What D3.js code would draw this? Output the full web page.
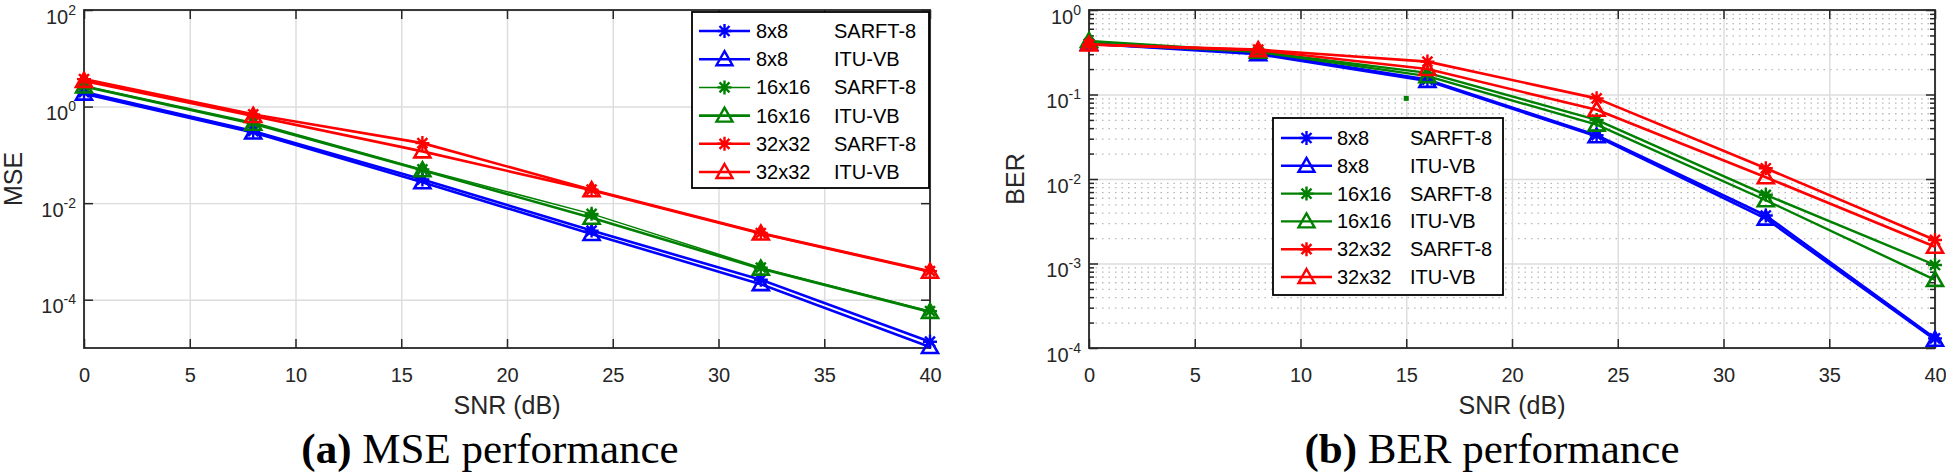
<!DOCTYPE html>
<html><head><meta charset="utf-8">
<script src="https://cdn.jsdelivr.net/npm/d3@7/dist/d3.min.js"></script>
<style>
body{margin:0;background:#fff;}
svg{display:block;}
</style></head><body>
<svg id="c" width="1946" height="476"></svg>
<script>
// ---------------- data ----------------
const snr = [0, 8, 16, 24, 32, 40];
const sizeLabels = ["8x8", "8x8", "16x16", "16x16", "32x32", "32x32"];
const methodLabels = ["SARFT-8", "ITU-VB", "SARFT-8", "ITU-VB", "SARFT-8", "ITU-VB"];
const xTicks = [0, 5, 10, 15, 20, 25, 30, 35, 40];
const mseTickExps = [2, 0, -2, -4];
const berTickExps = [0, -1, -2, -3, -4];

const mse8Sarft  = [2.0, 0.31, 0.031, 0.0027, 2.6e-4, 1.35e-5];
const mse8Itu    = [1.85, 0.29, 0.027, 0.0023, 2.1e-4, 1.05e-5];
const mse16Sarft = [2.7, 0.47, 0.050, 0.0060, 4.6e-4, 5.8e-5];
const mse16Itu   = [2.6, 0.44, 0.048, 0.0050, 4.4e-4, 5.6e-5];
const mse32Sarft = [3.7, 0.69, 0.175, 0.019, 2.4e-3, 3.9e-4];
const mse32Itu   = [3.4, 0.64, 0.118, 0.0185, 2.35e-3, 3.8e-4];

const ber8Sarft  = [0.40, 0.31, 0.150, 0.033, 0.0037, 1.30e-4];
const ber8Itu    = [0.40, 0.30, 0.145, 0.032, 0.0034, 1.25e-4];
const ber16Sarft = [0.40, 0.32, 0.180, 0.050, 0.0065, 9.6e-4];
const ber16Itu   = [0.43, 0.32, 0.165, 0.044, 0.0056, 6.4e-4];
const ber32Sarft = [0.39, 0.34, 0.245, 0.090, 0.0134, 1.9e-3];
const ber32Itu   = [0.39, 0.335, 0.200, 0.066, 0.0105, 1.58e-3];

const berStrayX = [15];
const berStrayY = [0.09];

// ---------------- styles ----------------
const colors = ["#0000ff", "#0000ff", "#008000", "#008000", "#ff0000", "#ff0000"];
const markers = ["star", "tri", "star", "tri", "star", "tri"];
const mseWidths = [2.6, 2.6, 1.5, 2.6, 2.6, 2.6];
const berWidths = [2.6, 2.6, 2.4, 2.4, 2.6, 2.6];

const FONT = "'Liberation Sans', Arial, Helvetica, sans-serif";
const svg = d3.select("#c");

function markerPath(type) {
  if (type === "star") return "M-7,0H7M0,-7V7M-5,-5L5,5M-5,5L5,-5";
  return "M0,-8L8,6L-8,6Z";
}

function drawPanel(o) {
  const g = svg.append("g");
  const x = d3.scaleLinear().domain([0, 40]).range([o.x0, o.x1]);
  const y = d3.scaleLog().domain(o.yDomain).range([o.y1, o.y0]);
  const W = o.x1 - o.x0, H = o.y1 - o.y0;
  const majorVals = o.tickExps.map(e => Math.pow(10, e));
  const axColor = "#262626";

  // minor grid
  let minorVals = [];
  if (o.minor) {
    for (let e = o.minorFrom; e < o.minorTo; e++)
      for (let k = 2; k <= 9; k++) minorVals.push(k * Math.pow(10, e));
    const mg = g.append("g").attr("transform", `translate(${o.x0},0)`)
      .call(d3.axisLeft(y).tickValues(minorVals).tickSize(-W).tickFormat(""));
    mg.select(".domain").remove();
    mg.selectAll("line").attr("stroke", "#b8b8b8").attr("stroke-width", 1.3)
      .attr("stroke-dasharray", "1.5,5");
  }
  // major grid
  const gx = g.append("g").attr("transform", `translate(0,${o.y1})`)
    .call(d3.axisBottom(x).tickValues(xTicks).tickSize(-H).tickFormat(""));
  gx.select(".domain").remove();
  gx.selectAll("line").attr("stroke", "#dcdcdc").attr("stroke-width", 1.4);
  const gy = g.append("g").attr("transform", `translate(${o.x0},0)`)
    .call(d3.axisLeft(y).tickValues(majorVals).tickSize(-W).tickFormat(""));
  gy.select(".domain").remove();
  gy.selectAll("line").attr("stroke", "#dcdcdc").attr("stroke-width", 1.4);

  // ticks & labels
  const bx = g.append("g").attr("transform", `translate(0,${o.y1})`)
    .call(d3.axisBottom(x).tickValues(xTicks).tickSizeInner(-9).tickSizeOuter(0).tickPadding(20));
  bx.selectAll("text").attr("font-family", FONT).attr("font-size", 20).attr("fill", axColor);
  const tx = g.append("g").attr("transform", `translate(0,${o.y0})`)
    .call(d3.axisTop(x).tickValues(xTicks).tickSizeInner(-9).tickSizeOuter(0).tickFormat(""));
  const ly = g.append("g").attr("transform", `translate(${o.x0},0)`)
    .call(d3.axisLeft(y).tickValues(majorVals).tickSizeInner(-9).tickSizeOuter(0).tickFormat(""));
  const ry = g.append("g").attr("transform", `translate(${o.x1},0)`)
    .call(d3.axisRight(y).tickValues(majorVals).tickSizeInner(-9).tickSizeOuter(0).tickFormat(""));
  const extra = [];
  if (o.minor) {
    extra.push(g.append("g").attr("transform", `translate(${o.x0},0)`)
      .call(d3.axisLeft(y).tickValues(minorVals).tickSizeInner(-5).tickSizeOuter(0).tickFormat("")));
    extra.push(g.append("g").attr("transform", `translate(${o.x1},0)`)
      .call(d3.axisRight(y).tickValues(minorVals).tickSizeInner(-5).tickSizeOuter(0).tickFormat("")));
  }
  [bx, tx, ly, ry].concat(extra).forEach(a => {
    a.select(".domain").attr("stroke", "none");
    a.selectAll("line").attr("stroke", axColor).attr("stroke-width", 1.5);
  });

  // y tick labels with exponents
  ly.selectAll(".tick").each(function(d) {
    const t = d3.select(this).append("text")
      .attr("x", -8).attr("y", 13).attr("text-anchor", "end")
      .attr("font-family", FONT).attr("fill", axColor);
    t.append("tspan").attr("font-size", 20).text("10");
    t.append("tspan").attr("font-size", 14).attr("dy", -9).text(String(Math.round(Math.log10(d))));
  });

  // box
  g.append("rect").attr("x", o.x0).attr("y", o.y0).attr("width", W).attr("height", H)
    .attr("fill", "none").attr("stroke", axColor).attr("stroke-width", 1.8);

  // series
  const line = d3.line().x((d, i) => x(snr[i])).y(d => y(d));
  o.series.forEach((s, k) => {
    g.append("path").attr("d", line(s)).attr("fill", "none")
      .attr("stroke", colors[k]).attr("stroke-width", o.widths[k]).attr("stroke-linejoin", "round");
    g.selectAll(null).data(s).enter().append("path")
      .attr("transform", (d, i) => `translate(${x(snr[i])},${y(d)})`)
      .attr("d", markerPath(markers[k])).attr("fill", "none")
      .attr("stroke", colors[k]).attr("stroke-width", markers[k] === "star" ? 2.4 : 2.6);
  });

  if (o.strayX) {
    g.selectAll(null).data(o.strayX).enter().append("rect")
      .attr("x", (d) => x(d) - 2.5).attr("y", (d, i) => y(o.strayY[i]) - 2.5)
      .attr("width", 5).attr("height", 5).attr("fill", "#008000");
  }

  // axis labels
  g.append("text").attr("x", (o.x0 + o.x1) / 2).attr("y", 414).attr("text-anchor", "middle")
    .attr("font-family", FONT).attr("font-size", 25).attr("fill", axColor).text("SNR (dB)");
  g.append("text").attr("transform", `translate(${o.ylabX},${(o.y0 + o.y1) / 2}) rotate(-90)`)
    .attr("text-anchor", "middle").attr("font-family", FONT).attr("font-size", 25)
    .attr("fill", axColor).text(o.ylabel);

  // legend
  const L = o.legend;
  g.append("rect").attr("x", L.x).attr("y", L.y).attr("width", L.w).attr("height", L.h)
    .attr("fill", "#fff").attr("stroke", "#000").attr("stroke-width", 1.8);
  for (let k = 0; k < 6; k++) {
    const ry0 = L.y + L.first + k * L.step;
    g.append("line").attr("x1", L.x + L.l0).attr("x2", L.x + L.l1).attr("y1", ry0).attr("y2", ry0)
      .attr("stroke", colors[k]).attr("stroke-width", o.widths[k]);
    g.append("path").attr("transform", `translate(${L.x + (L.l0 + L.l1) / 2},${ry0})`)
      .attr("d", markerPath(markers[k])).attr("fill", "none").attr("stroke", colors[k])
      .attr("stroke-width", 2.4);
    g.append("text").attr("x", L.x + L.t1).attr("y", ry0 + 7).attr("font-family", FONT)
      .attr("font-size", 20).attr("fill", "#000").text(sizeLabels[k]);
    g.append("text").attr("x", L.x + L.t2).attr("y", ry0 + 7).attr("font-family", FONT)
      .attr("font-size", 20).attr("fill", "#000").text(methodLabels[k]);
  }

  // caption
  const cap = svg.append("text").attr("x", o.capX).attr("y", 463).attr("text-anchor", "middle")
    .attr("font-family", "'Liberation Serif', 'Times New Roman', serif").attr("font-size", 43).attr("fill", "#000");
  cap.append("tspan").attr("font-weight", "bold").text(o.capBold);
  cap.append("tspan").text(o.capRest);
}

drawPanel({
  x0: 84, x1: 930, y0: 10, y1: 348, yDomain: [1e-5, 1e2], tickExps: mseTickExps,
  minor: false, series: [mse8Sarft, mse8Itu, mse16Sarft, mse16Itu, mse32Sarft, mse32Itu],
  widths: mseWidths, ylabel: "MSE", ylabX: 22,
  legend: {x: 692, y: 12, w: 237, h: 176, first: 19, step: 28.2, l0: 7, l1: 58, t1: 64, t2: 142},
  capX: 490, capBold: "(a)", capRest: " MSE performance"
});
drawPanel({
  x0: 1089, x1: 1935, y0: 10, y1: 348, yDomain: [1e-4, 1], tickExps: berTickExps,
  minor: true, minorFrom: -4, minorTo: 0,
  series: [ber8Sarft, ber8Itu, ber16Sarft, ber16Itu, ber32Sarft, ber32Itu],
  widths: berWidths, ylabel: "BER", ylabX: 1024, strayX: berStrayX, strayY: berStrayY,
  legend: {x: 1273, y: 118, w: 230, h: 177, first: 20, step: 27.8, l0: 8, l1: 59, t1: 64, t2: 137},
  capX: 1492, capBold: "(b)", capRest: " BER performance"
});
</script>
</body></html>
